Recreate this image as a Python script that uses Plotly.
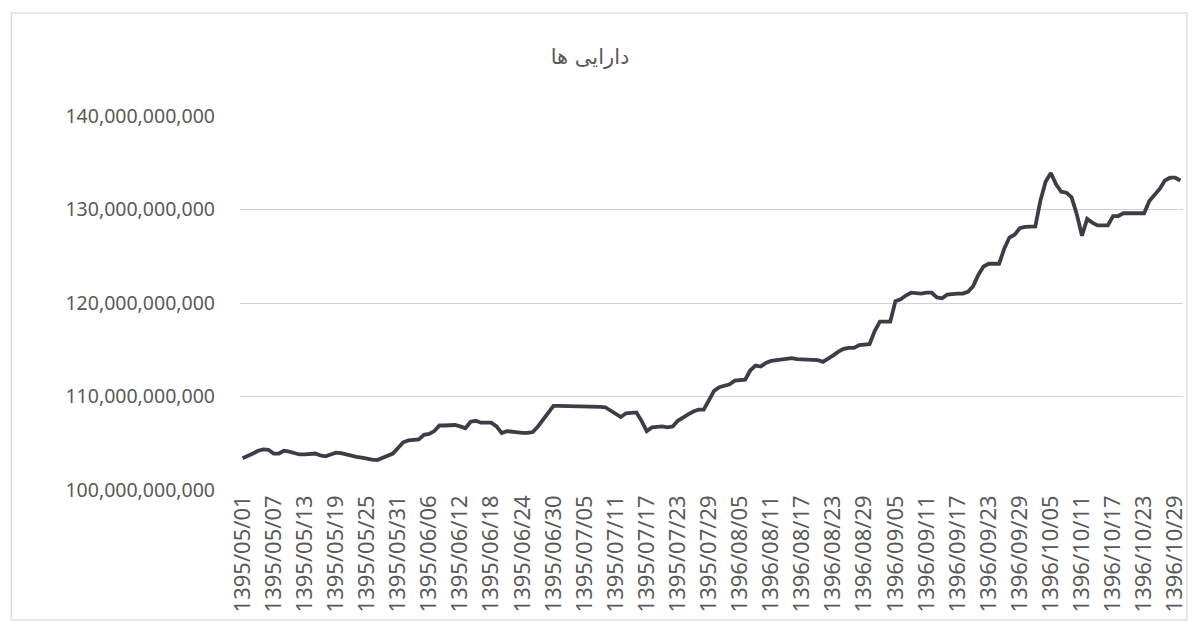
import plotly.graph_objects as go

# ---- data -------------------------------------------------------------
title_text = "دارایی ها"

# (year, month, days) segments of the daily category axis
month_segments = [(1395, 5, 31), (1395, 6, 31), (1395, 7, 30),
                  (1396, 8, 30), (1396, 9, 30), (1396, 10, 30)]

dates = [f"{y}/{m:02d}/{d:02d}" for (y, m, n) in month_segments for d in range(1, n + 1)]

tick_labels = [
    "1395/05/01", "1395/05/07", "1395/05/13", "1395/05/19", "1395/05/25", "1395/05/31",
    "1395/06/06", "1395/06/12", "1395/06/18", "1395/06/24", "1395/06/30", "1395/07/05",
    "1395/07/11", "1395/07/17", "1395/07/23", "1395/07/29", "1396/08/05", "1396/08/11",
    "1396/08/17", "1396/08/23", "1396/08/29", "1396/09/05", "1396/09/11", "1396/09/17",
    "1396/09/23", "1396/09/29", "1396/10/05", "1396/10/11", "1396/10/17", "1396/10/23",
    "1396/10/29",
]

# assets, in billions of rials
assets_bn = [
    103.4, 103.6, 103.9, 104.2, 104.35, 104.3, 103.9, 103.9, 104.2, 104.1,
    103.9, 103.8, 103.8, 103.85, 103.9, 103.7, 103.6, 103.8, 104.0, 103.95,
    103.8, 103.6, 103.55, 103.45, 103.3, 103.25, 103.2, 103.4, 103.7, 103.9,
    104.5, 105.1, 105.3, 105.3, 105.4, 105.9, 106.0, 106.3, 106.9, 106.9,
    106.9, 106.95, 106.8, 106.6, 107.3, 107.4, 107.2, 107.2, 107.2, 106.8,
    106.1, 106.3, 106.2, 106.1, 106.1, 106.1, 106.2, 106.8, 107.5, 108.3,
    109.0, 109.0, 109.0, 109.0, 109.0, 108.95, 108.9, 108.9, 108.9, 108.9,
    108.85, 108.5, 108.1, 107.8, 108.2, 108.3, 108.3, 107.4, 106.3, 106.7,
    106.8, 106.8, 106.7, 106.8, 107.4, 107.8, 108.1, 108.4, 108.6, 108.6,
    109.6, 110.6, 111.0, 111.1, 111.3, 111.7, 111.75, 111.8, 112.8, 113.3,
    113.2, 113.6, 113.8, 113.9, 114.0, 114.1, 114.1, 114.0, 114.0, 114.0,
    114.0, 113.9, 113.7, 114.0, 114.4, 114.8, 115.1, 115.2, 115.2, 115.5,
    115.55, 115.6, 117.0, 118.0, 118.0, 118.0, 120.2, 120.4, 120.8, 121.1,
    121.05, 121.0, 121.1, 121.1, 120.6, 120.5, 120.9, 121.0, 121.0, 121.0,
    121.2, 121.8, 123.0, 123.9, 124.2, 124.2, 124.2, 125.8, 127.0, 127.3,
    128.0, 128.15, 128.15, 128.2, 131.0, 133.0, 133.9, 132.7, 131.9, 131.8,
    131.3, 129.5, 127.2, 129.0, 128.6, 128.3, 128.3, 128.3, 129.3, 129.3,
    129.6, 129.6, 129.55, 129.5, 129.6, 130.9, 131.6, 132.2, 133.1, 133.4,
    133.4, 133.1,
]
assets = [v * 1e9 for v in assets_bn]

y_min, y_max, y_step = 100e9, 140e9, 10e9

# ---- figure ----------------------------------------------------------
W, H = 1197, 621
ml, mr, mt, mb = 240, 9, 116, 131
pw, ph = W - ml - mr, H - mt - mb

def px_to_paper_x(px):
    return (px - ml) / pw

def px_to_paper_y(py):
    return (H - mb - py) / ph

fig = go.Figure()
fig.add_trace(go.Scatter(
    x=dates, y=assets, mode="lines",
    line=dict(color="#3d3c47", width=3.8),
    hoverinfo="x+y",
))

grey_text = "#595959"
fig.update_layout(
    width=W, height=H,
    margin=dict(l=ml, r=mr, t=mt, b=mb, pad=0),
    paper_bgcolor="white", plot_bgcolor="white",
    showlegend=False,
    title=dict(text=title_text, x=590 / W, xref="container", xanchor="center",
               y=1 - 57 / H, yref="container", yanchor="middle",
               font=dict(family="DejaVu Sans", size=21, color=grey_text)),
    xaxis=dict(
        type="category", categoryorder="array", categoryarray=dates,
        range=[-0.5, len(dates) - 0.5],
        tickmode="array", tickvals=tick_labels, ticktext=tick_labels,
        tickangle=-90, showgrid=False, zeroline=False, showline=False,
        ticks="", ticklen=0,
        tickfont=dict(family="Noto Sans", size=22, color=grey_text),
    ),
    yaxis=dict(
        range=[y_min, y_max], dtick=y_step, tick0=y_min,
        tickformat=",d", showgrid=True, gridcolor="#d3d1db", gridwidth=1,
        zeroline=False, showline=False, ticks="",
        tickfont=dict(family="Noto Sans", size=19.5, color=grey_text),
        ticklabelstandoff=24,
    ),
    shapes=[
        dict(type="rect", xref="paper", yref="paper",
             x0=px_to_paper_x(10), x1=px_to_paper_x(1192),
             y0=px_to_paper_y(620), y1=px_to_paper_y(13),
             line=dict(color="#cfcfd6", width=1), fillcolor="rgba(0,0,0,0)",
             layer="below"),
    ],
)

fig.write_html("out.html", config={"displayModeBar": False},
               post_script="document.body.style.margin='0';")
